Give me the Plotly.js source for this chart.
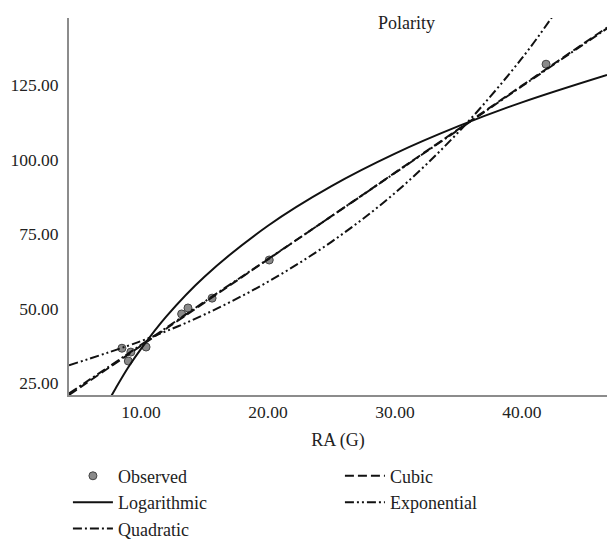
<!DOCTYPE html>
<html>
<head>
<meta charset="utf-8">
<script src="https://cdn.plot.ly/plotly-3.0.1.min.js"></script>
<style>html,body{margin:0;padding:0;background:#fff;}#chart{width:607px;height:540px;}</style>
</head>
<body>
<div id="chart"></div>
<script>
// Observed points
var obsX = [8.5, 9.0, 9.2, 10.4, 13.2, 13.7, 15.6, 20.1, 41.9];
var obsY = [36.7, 32.4, 35.4, 37.1, 48.2, 50.2, 53.5, 66.3, 132.0];

// Logarithmic fit
var logX = [7.6, 8, 9, 10, 12, 15, 20, 25, 30, 35, 40, 46.7];
var logY = [20.2, 23.2, 30.3, 36.5, 47.4, 60.7, 77.8, 91.1, 102.0, 111.2, 119.2, 128.4];

// Quadratic fit
var quadX = [4.33, 10, 15, 20, 25, 30, 35, 40, 46.7];
var quadY = [21.5, 37.8, 52.3, 66.6, 81.0, 95.5, 110.0, 124.6, 144.0];

// Cubic fit
var cubX = [4.33, 10, 15, 20, 25, 30, 35, 40, 46.7];
var cubY = [21.0, 37.5, 52.0, 66.5, 81.0, 95.6, 110.2, 124.8, 144.3];

// Exponential fit
var expX = [4.33, 10, 15, 20, 25, 30, 35, 40, 42.7];
var expY = [31.0, 39.1, 48.0, 59.0, 72.4, 88.8, 109.2, 134.0, 149.8];

var xTicks = [10, 20, 30, 40];
var xTickText = ["10.00", "20.00", "30.00", "40.00"];
var yTicks = [25, 50, 75, 100, 125];
var yTickText = ["25.00", "50.00", "75.00", "100.00", "125.00"];

var FONT = "Liberation Serif, DejaVu Serif, serif";
var INK = "#111";
var TXT = "#222";

var traces = [
  {x: obsX, y: obsY, name: "Observed", type: "scatter", mode: "markers", legendrank: 1,
   marker: {size: 8, color: "#8a8a8a", line: {color: "#444", width: 1}}},
  {x: logX, y: logY, name: "Logarithmic", type: "scatter", mode: "lines", legendrank: 3,
   line: {color: INK, width: 2, shape: "spline"}},
  {x: quadX, y: quadY, name: "Quadratic", type: "scatter", mode: "lines", legendrank: 5,
   line: {color: INK, width: 2, shape: "spline", dash: "9px,3px,2px,3px"}},
  {x: cubX, y: cubY, name: "Cubic", type: "scatter", mode: "lines", legendrank: 2,
   line: {color: INK, width: 2, shape: "spline", dash: "9px,4px"}},
  {x: expX, y: expY, name: "Exponential", type: "scatter", mode: "lines", legendrank: 4,
   line: {color: INK, width: 2, shape: "spline", dash: "9px,3px,2px,3px,2px,3px"}}
];

var layout = {
  width: 607, height: 540,
  margin: {l: 69, r: 0, t: 18, b: 145, pad: 0, autoexpand: false},
  paper_bgcolor: "#fff", plot_bgcolor: "#fff",
  font: {family: FONT, size: 17.5, color: TXT},
  showlegend: true,
  legend: {orientation: "h", x: -0.002, xanchor: "left", y: -0.166, yanchor: "top",
           entrywidth: 217, entrywidthmode: "pixels", font: {family: FONT, size: 18, color: TXT},
           tracegroupgap: 0, itemwidth: 40, bgcolor: "rgba(0,0,0,0)"},
  xaxis: {range: [4.33, 46.7], tickvals: xTicks, ticktext: xTickText, showgrid: false, zeroline: false,
          showline: true, linecolor: "#8c8c8c", linewidth: 2, ticks: "", ticklabelstandoff: 0,
          tickfont: {family: FONT, size: 17.5, color: TXT},
          title: {text: "RA (G)", font: {family: FONT, size: 18, color: TXT}, standoff: 12}},
  yaxis: {range: [21, 147.5], tickvals: yTicks, ticktext: yTickText, showgrid: false, zeroline: false,
          showline: true, linecolor: "#8c8c8c", linewidth: 2, ticks: "", ticklabelstandoff: 5,
          tickfont: {family: FONT, size: 17.5, color: TXT}},
  annotations: [{text: "Polarity", xref: "paper", yref: "paper", x: 0.628, y: 0.987,
                 xanchor: "center", yanchor: "middle", showarrow: false,
                 font: {family: FONT, size: 18, color: TXT}}]
};

Plotly.newPlot("chart", traces, layout, {displayModeBar: false, staticPlot: true});
</script>
</body>
</html>
